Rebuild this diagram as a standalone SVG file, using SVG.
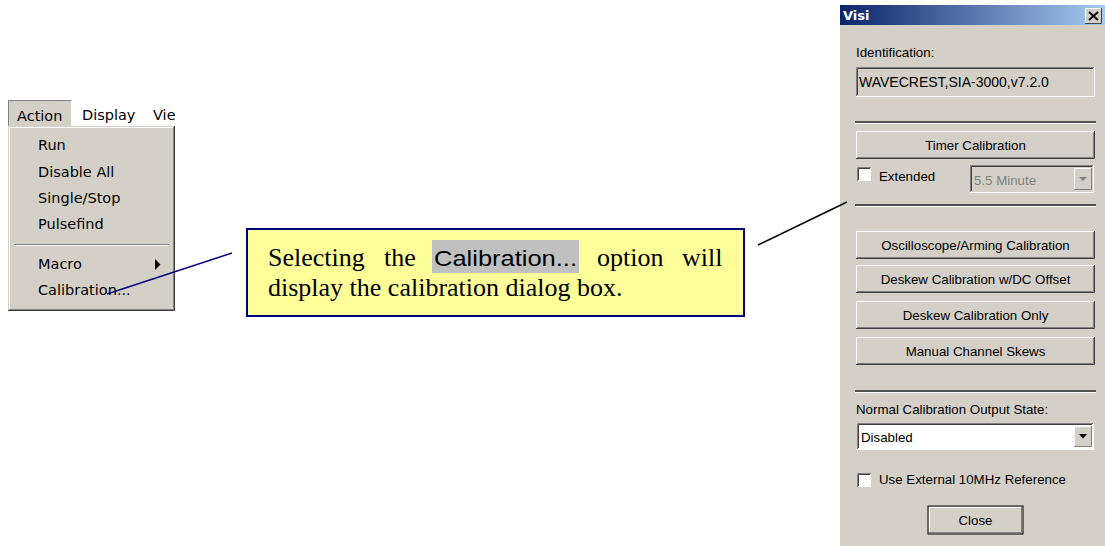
<svg xmlns="http://www.w3.org/2000/svg" width="1105" height="546" viewBox="0 0 1105 546">
<defs>
<linearGradient id="title" x1="0" y1="0" x2="1" y2="0">
<stop offset="0" stop-color="#0A246A"/>
<stop offset="1" stop-color="#A6CAF0"/>
</linearGradient>
<style>
.ui{font-family:"Liberation Sans",Arial,sans-serif;font-size:13.3px;fill:#000}
.mn{font-family:"DejaVu Sans","Liberation Sans",sans-serif;font-size:14.5px;fill:#000}
.mid{text-anchor:middle}
.face{fill:#D4D0C8}
.hl{stroke:#FFFFFF;stroke-width:1;fill:none}
.sh{stroke:#808080;stroke-width:1;fill:none}
.dk{stroke:#404040;stroke-width:1;fill:none}
.ser{font-family:"Liberation Serif","Times New Roman",serif;font-size:26px;fill:#000}
</style>
</defs>
<rect width="1105" height="546" fill="#FFFFFF"/>

<g id="menu">
<rect x="8" y="100" width="64" height="26" class="face"/>
<path d="M8.5 125.5V100.5H71.5" class="sh"/>
<path d="M71.5 100.5V125.5" class="hl"/>
<text x="17" y="121" class="mn">Action</text>
<text x="82" y="120" class="mn">Display</text>
<svg x="150" y="100" width="25" height="26"><text x="3" y="20" class="mn">Vie</text></svg>
<rect x="8" y="126" width="167" height="185" class="face"/>
<path d="M9.5 310V127.5H174" class="hl"/>
<path d="M174.5 126V310.5H8" class="dk"/>
<path d="M173.5 127V309.5H9" class="sh"/>
<line x1="14" y1="244.5" x2="169" y2="244.5" class="sh"/>
<line x1="14" y1="245.5" x2="169" y2="245.5" class="hl"/>
<text x="38" y="150" class="mn">Run</text>
<text x="38" y="177" class="mn">Disable All</text>
<text x="38" y="203" class="mn">Single/Stop</text>
<text x="38" y="229" class="mn">Pulsefind</text>
<text x="38" y="269" class="mn">Macro</text>
<polygon points="155,259 160.5,264.5 155,270" fill="#000"/>
<text x="38" y="295" class="mn">Calibration...</text>
</g>

<g id="callout">
<rect x="247" y="229" width="497" height="87" fill="#FFFF99" stroke="#000080" stroke-width="2"/>
<rect x="432" y="240" width="147" height="33" fill="#C0C0C0"/>
<text x="268" y="266" class="ser">Selecting</text>
<text x="384" y="266" class="ser">the</text>
<text x="434" y="266" font-family="'Liberation Sans',Arial,sans-serif" font-size="22" fill="#000" textLength="143" lengthAdjust="spacingAndGlyphs">Calibration...</text>
<text x="597" y="266" class="ser">option</text>
<text x="682" y="266" class="ser">will</text>
<text x="268" y="296" class="ser">display the calibration dialog box.</text>
</g>

<g id="dialog">
<rect x="840" y="5" width="265" height="541" class="face"/>
<rect x="840" y="5" width="265" height="20" fill="url(#title)"/>
<text x="843" y="20" font-family="'DejaVu Sans',sans-serif" font-size="13" font-weight="bold" fill="#FFFFFF">Visi</text>
<rect x="1085" y="8" width="17" height="16" class="face"/>
<path d="M1085.5 23.5V8.5H1101.5" class="hl"/>
<path d="M1101.5 8V23.5H1085" class="dk"/>
<path d="M1089 12L1098 20M1098 12L1089 20" stroke="#000" stroke-width="2"/>

<text x="856" y="57" class="ui">Identification:</text>
<rect x="856" y="67" width="239" height="30" class="face"/>
<path d="M856.5 96V67.5H1094" class="sh"/>
<path d="M857.5 95V68.5H1093" class="dk"/>
<path d="M856 96.5H1094.5V67" class="hl"/>
<text x="859" y="87" class="ui" style="font-size:14px">WAVECREST,SIA-3000,v7.2.0</text>

<line x1="855" y1="122" x2="1096" y2="122" stroke="#505050" stroke-width="2"/>
<line x1="855" y1="123.5" x2="1096" y2="123.5" class="hl"/>

<g id="btn-timer">
<rect x="856" y="131" width="239" height="28" class="face"/>
<path d="M856.5 158V131.5H1094" class="hl"/>
<path d="M1094.5 131V158.5H856" class="dk"/>
<path d="M1093.5 132V157.5H857" class="sh"/>
<text x="975.5" y="150" class="ui mid">Timer Calibration</text>
</g>

<rect x="857" y="167" width="14" height="14" fill="#FFFFFF"/>
<path d="M857.5 181V167.5H871" class="sh"/>
<path d="M858.5 180V168.5H870" class="dk"/>
<text x="879" y="181" class="ui">Extended</text>
<rect x="970" y="165" width="124" height="28" class="face"/>
<path d="M970.5 192V165.5H1093" class="sh"/>
<path d="M971.5 191V166.5H1092" class="dk"/>
<path d="M970 192.5H1093.5V165" class="hl"/>
<text x="974" y="185" class="ui" style="fill:#808080">5.5 Minute</text>
<rect x="1074" y="168" width="18" height="22" class="face"/>
<path d="M1074.5 189V168.5H1091" class="hl"/>
<path d="M1091.5 168V189.5H1074" class="sh"/>
<polygon points="1079,177 1087,177 1083,181" fill="#808080"/>

<line x1="855" y1="205" x2="1096" y2="205" stroke="#505050" stroke-width="2"/>
<line x1="855" y1="206.5" x2="1096" y2="206.5" class="hl"/>

<g id="btn-osc">
<rect x="856" y="231" width="239" height="28" class="face"/>
<path d="M856.5 258V231.5H1094" class="hl"/>
<path d="M1094.5 231V258.5H856" class="dk"/>
<path d="M1093.5 232V257.5H857" class="sh"/>
<text x="975.5" y="250" class="ui mid">Oscilloscope/Arming Calibration</text>
</g>
<g id="btn-deskewdc">
<rect x="856" y="265" width="239" height="28" class="face"/>
<path d="M856.5 292V265.5H1094" class="hl"/>
<path d="M1094.5 265V292.5H856" class="dk"/>
<path d="M1093.5 266V291.5H857" class="sh"/>
<text x="975.5" y="284" class="ui mid">Deskew Calibration w/DC Offset</text>
</g>
<g id="btn-deskewonly">
<rect x="856" y="301" width="239" height="28" class="face"/>
<path d="M856.5 328V301.5H1094" class="hl"/>
<path d="M1094.5 301V328.5H856" class="dk"/>
<path d="M1093.5 302V327.5H857" class="sh"/>
<text x="975.5" y="320" class="ui mid">Deskew Calibration Only</text>
</g>
<g id="btn-manual">
<rect x="856" y="337" width="239" height="28" class="face"/>
<path d="M856.5 364V337.5H1094" class="hl"/>
<path d="M1094.5 337V364.5H856" class="dk"/>
<path d="M1093.5 338V363.5H857" class="sh"/>
<text x="975.5" y="356" class="ui mid">Manual Channel Skews</text>
</g>

<line x1="855" y1="391" x2="1096" y2="391" stroke="#505050" stroke-width="2"/>
<line x1="855" y1="392.5" x2="1096" y2="392.5" class="hl"/>

<text x="856" y="414" class="ui">Normal Calibration Output State:</text>
<rect x="857" y="423" width="237" height="27" fill="#FFFFFF"/>
<path d="M857.5 449V423.5H1093" class="sh"/>
<path d="M858.5 448V424.5H1092" class="dk"/>
<path d="M857 449.5H1093.5V423" class="hl"/>
<text x="861" y="442" class="ui">Disabled</text>
<rect x="1074" y="426" width="18" height="21" class="face"/>
<path d="M1074.5 446V426.5H1091" class="hl"/>
<path d="M1091.5 426V446.5H1074" class="sh"/>
<polygon points="1079,434 1087,434 1083,438.5" fill="#000"/>

<rect x="857" y="473" width="14" height="14" fill="#FFFFFF"/>
<path d="M857.5 487V473.5H871" class="sh"/>
<path d="M858.5 486V474.5H870" class="dk"/>
<text x="879" y="484" class="ui">Use External 10MHz Reference</text>

<g id="btn-close">
<rect x="928" y="506" width="95" height="28" class="face" stroke="#000" stroke-width="1"/>
<path d="M929.5 532V507.5H1021" class="hl"/>
<path d="M1021.5 507V532.5H929" class="sh"/>
<text x="975.5" y="525" class="ui mid">Close</text>
</g>
</g>

<g id="connectors">
<line x1="107" y1="294" x2="232" y2="253" stroke="#000080" stroke-width="1.5"/>
<line x1="758" y1="245" x2="847" y2="202" stroke="#000" stroke-width="1.5"/>
</g>
</svg>
